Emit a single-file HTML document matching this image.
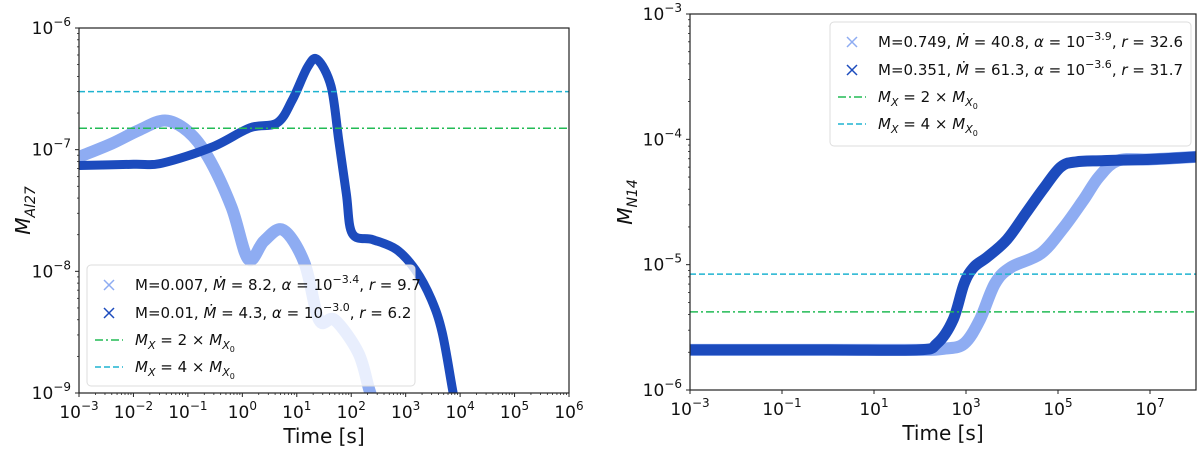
<!DOCTYPE html>
<html><head><meta charset="utf-8"><style>
body{margin:0;background:#fff;}
svg{display:block;font-family:"DejaVu Sans","Liberation Sans",sans-serif;}
.tk{font-size:17px;fill:#111}
.lg{font-size:15px;fill:#111}
</style></head><body>
<svg id="fig" width="1200" height="449" viewBox="0 0 1200 449" xmlns="http://www.w3.org/2000/svg">
<defs>
<clipPath id="clipL"><rect x="79" y="28" width="490" height="365"/></clipPath>
<clipPath id="clipR"><rect x="690" y="14" width="506" height="376"/></clipPath>
</defs>
<g id="left"></g>
<g id="right"></g>
</svg>
<script>
// ---- Left chart data (log10 t, log10 M) ----
const leftLightT = [-3,-2.4,-1.9,-1.42,-1.0,-0.63,-0.2,0.11,0.4,0.75,1.14,1.41,1.7,2.13,2.33,2.5];
const leftLightV = [-7.06,-6.95,-6.84,-6.76,-6.85,-7.06,-7.47,-7.9,-7.75,-7.66,-7.93,-8.4,-8.4,-8.67,-8.97,-9.2];
const leftDarkT = [-3,-2,-1.47,-0.56,0.14,0.64,0.92,1.2,1.38,1.63,1.77,1.91,2.02,2.4,2.83,3.18,3.47,3.67,3.86,3.95];
const leftDarkV = [-7.13,-7.12,-7.11,-6.98,-6.82,-6.78,-6.59,-6.32,-6.26,-6.48,-6.92,-7.36,-7.69,-7.74,-7.82,-7.99,-8.23,-8.5,-8.97,-9.2];
const leftThresholds = [1.5e-7, 3e-7];
const leftXTicks = [-3,-2,-1,0,1,2,3,4,5,6];
const leftYTicks = [-9,-8,-7,-6];
const leftLegend = ["M=0.007, Ṁ = 8.2, α = 10^-3.4, r = 9.7","M=0.01, Ṁ = 4.3, α = 10^-3.0, r = 6.2"];
// ---- Right chart data ----
const rightLightT = [-3,0,2.0,2.55,2.96,3.3,3.63,3.98,4.63,5.13,5.56,5.89,6.3,7,8];
const rightLightV = [-5.68,-5.68,-5.68,-5.67,-5.63,-5.44,-5.15,-5.02,-4.91,-4.7,-4.48,-4.3,-4.17,-4.16,-4.14];
const rightDarkT = [-3,0,1.96,2.37,2.72,2.96,3.17,3.46,3.89,4.3,4.71,5.06,5.39,6,7,8];
const rightDarkV = [-5.68,-5.68,-5.68,-5.63,-5.44,-5.15,-5.02,-4.94,-4.8,-4.59,-4.38,-4.22,-4.18,-4.17,-4.16,-4.14];
const rightThresholds = [4.2e-6, 8.4e-6];
const rightXTicks = [-3,-1,1,3,5,7];
const rightYTicks = [-6,-5,-4,-3];
const rightLegend = ["M=0.749, Ṁ = 40.8, α = 10^-3.9, r = 32.6","M=0.351, Ṁ = 61.3, α = 10^-3.6, r = 31.7"];

const NS="http://www.w3.org/2000/svg";
const LIGHT="#8eacf2", DARK="#1c4bbd", GREEN="#22bb55", CYAN="#1fb3d0";
function mk(tag,attrs,parent){const e=document.createElementNS(NS,tag);for(const k in attrs)e.setAttribute(k,attrs[k]);parent.appendChild(e);return e;}
function smooth(P){
  let d='M'+P[0][0].toFixed(1)+','+P[0][1].toFixed(1);
  for(let i=0;i<P.length-1;i++){
    const p0=P[Math.max(0,i-1)],p1=P[i],p2=P[i+1],p3=P[Math.min(P.length-1,i+2)];
    const c1=[p1[0]+(p2[0]-p0[0])/6,p1[1]+(p2[1]-p0[1])/6];
    const c2=[p2[0]-(p3[0]-p1[0])/6,p2[1]-(p3[1]-p1[1])/6];
    d+=`C${c1[0].toFixed(1)},${c1[1].toFixed(1)} ${c2[0].toFixed(1)},${c2[1].toFixed(1)} ${p2[0].toFixed(1)},${p2[1].toFixed(1)}`;
  }
  return d;
}

function draw(g,cfg){
  const X=v=>cfg.x0+(v-cfg.xmin)*(cfg.x1-cfg.x0)/(cfg.xmax-cfg.xmin);
  const Y=v=>cfg.y1-(v-cfg.ymin)*(cfg.y1-cfg.y0)/(cfg.ymax-cfg.ymin);
  const clip=mk('g',{'clip-path':'url(#'+cfg.clip+')'},g);
  [[cfg.lt,cfg.lv,LIGHT,12,'light'],[cfg.dt,cfg.dv,DARK,cfg.dw,'dark']].forEach(s=>{
    const P=s[0].map((t,i)=>[X(t),Y(s[1][i])]);
    const p=mk('path',{d:smooth(P),fill:'none',stroke:s[2],'stroke-width':s[3],'stroke-linejoin':'round','stroke-linecap':'round'},clip);
    
    
  });
  cfg.th.forEach((v,i)=>{
    const l=mk('line',{x1:cfg.x0,x2:cfg.x1,y1:Y(Math.log10(v)),y2:Y(Math.log10(v)),stroke:i?CYAN:GREEN,'stroke-width':1.5,'stroke-dasharray':i?'6,3':'8,3,2,3'},clip);
    
    
  });
  const fr=mk('rect',{x:cfg.x0,y:cfg.y0,width:cfg.x1-cfg.x0,height:cfg.y1-cfg.y0,fill:'none',stroke:'#222','stroke-width':1.2},g);
  
  
  cfg.xt.forEach(t=>{
    const x=X(t);
    mk('line',{x1:x,x2:x,y1:cfg.y1,y2:cfg.y1+4,stroke:'#222'},g);
    const tx=mk('text',{x:x,y:cfg.y1+25,'text-anchor':'middle',class:'tk'},g);
    
    
    tx.innerHTML='10<tspan dy="-8" font-size="12">'+(t<0?'−'+(-t):t)+'</tspan>';
    if(cfg.minorX && t<cfg.xmax){for(let m=2;m<10;m++){const xm=X(t+Math.log10(m));mk('line',{x1:xm,x2:xm,y1:cfg.y1,y2:cfg.y1+2,stroke:'#222','stroke-width':0.8},g);}}
  });
  cfg.yt.forEach(t=>{
    const y=Y(t);
    mk('line',{x1:cfg.x0-4,x2:cfg.x0,y1:y,y2:y,stroke:'#222'},g);
    const tx=mk('text',{x:cfg.x0-8,y:y+6,'text-anchor':'end',class:'tk'},g);
    
    
    tx.innerHTML='10<tspan dy="-8" font-size="12">−'+(-t)+'</tspan>';
    if(t<cfg.ymax){for(let m=2;m<10;m++){const ym=Y(t+Math.log10(m));mk('line',{x1:cfg.x0-2,x2:cfg.x0,y1:ym,y2:ym,stroke:'#222','stroke-width':0.8},g);}}
  });
  const xl=mk('text',{x:(cfg.x0+cfg.x1)/2,y:cfg.y1+50,'text-anchor':'middle','font-size':20,fill:'#111'},g);
  
  
  xl.textContent='Time [s]';
  const yl=mk('text',{transform:'translate('+cfg.ylx+','+((cfg.y0+cfg.y1)/2)+') rotate(-90)','text-anchor':'middle','font-size':20,'font-style':'italic',fill:'#111'},g);
  
  
  yl.innerHTML='M<tspan dy="5" font-size="14">'+cfg.ylab+'</tspan>';
  const L=cfg.leg;
  const lg=mk('g',{},g);
  
  
  mk('rect',{x:L.x,y:L.y,width:L.w,height:L.h,rx:4,fill:'rgba(255,255,255,0.8)',stroke:'#ddd'},lg);
  const rows=[L.y+20,L.y+48,L.y+75,L.y+102];
  [[LIGHT,cfg.labels[0]],[DARK,cfg.labels[1]]].forEach((r,i)=>{
    const cx=L.x+22,cy=rows[i];
    mk('path',{d:`M${cx-5},${cy-5}L${cx+5},${cy+5}M${cx-5},${cy+5}L${cx+5},${cy-5}`,stroke:r[0],'stroke-width':1.5},lg);
    const m=r[1].match(/^(M=[\d.]+), Ṁ = ([\d.]+), α = 10\^([-\d.]+), r = ([\d.]+)$/);
    const t=mk('text',{x:L.x+48,y:cy+5,class:'lg'},lg);
    
    
    t.innerHTML=m[1]+', <tspan font-style="italic">Ṁ</tspan> = '+m[2]+', <tspan font-style="italic">α</tspan> = 10<tspan dy="-7" font-size="11">'+m[3].replace('-','−')+'</tspan><tspan dy="7">, </tspan><tspan font-style="italic">r</tspan> = '+m[4];
  });
  [[GREEN,'8,3,2,3','2'],[CYAN,'6,3','4']].forEach((r,i)=>{
    const cy=rows[2+i];
    mk('line',{x1:L.x+8,x2:L.x+36,y1:cy,y2:cy,stroke:r[0],'stroke-width':1.5,'stroke-dasharray':r[1]},lg);
    const t=mk('text',{x:L.x+48,y:cy+5,class:'lg','font-style':'italic'},lg);
    
    
    t.innerHTML='M<tspan dy="4" font-size="11">X</tspan><tspan dy="-4" font-style="normal"> = '+r[2]+' × </tspan>M<tspan dy="4" font-size="11">X</tspan><tspan dy="3" font-size="8" font-style="normal">0</tspan>';
  });
}
draw(document.getElementById('left'),{x0:79,x1:569,y0:28,y1:393,xmin:-3,xmax:6,ymin:-9,ymax:-6,clip:'clipL',
  lt:leftLightT,lv:leftLightV,dt:leftDarkT,dv:leftDarkV,dw:9,th:leftThresholds,xt:leftXTicks,yt:leftYTicks,minorX:true,
  ylx:30,ylab:'Al27',labels:leftLegend,leg:{x:87,y:265,w:328,h:121}});
draw(document.getElementById('right'),{x0:690,x1:1196,y0:14,y1:390,xmin:-3,xmax:8,ymin:-6,ymax:-3,clip:'clipR',
  lt:rightLightT,lv:rightLightV,dt:rightDarkT,dv:rightDarkV,dw:11,th:rightThresholds,xt:rightXTicks,yt:rightYTicks,minorX:false,
  ylx:632,ylab:'N14',labels:rightLegend,leg:{x:830,y:22,w:361,h:124}});
</script>
</body></html>
